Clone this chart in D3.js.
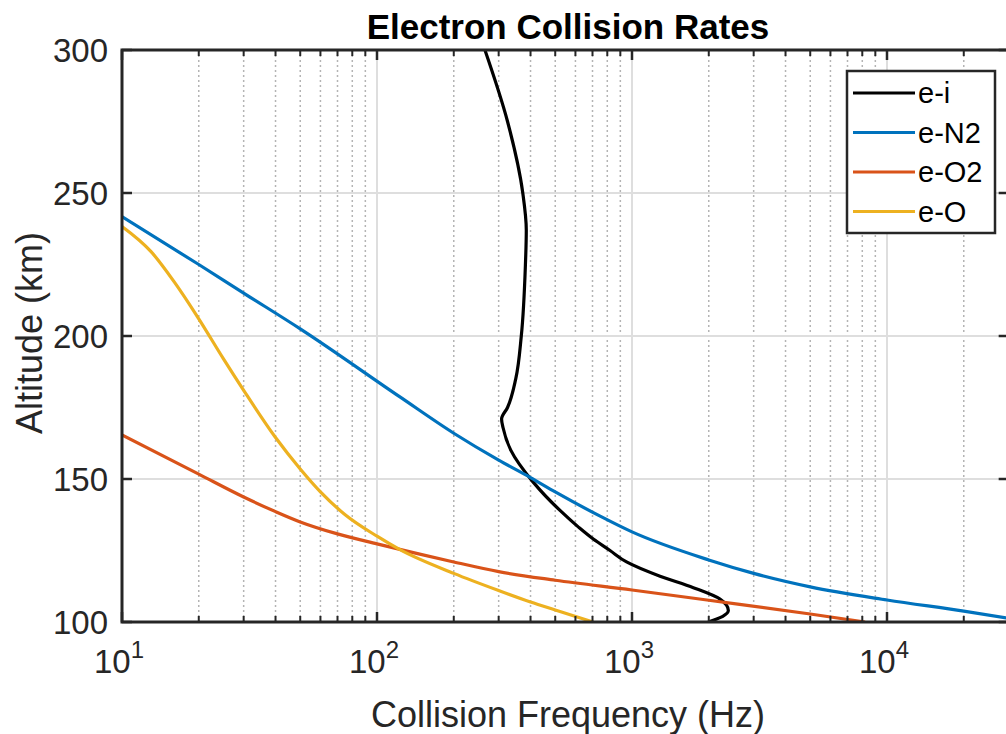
<!DOCTYPE html>
<html>
<head>
<meta charset="utf-8">
<script src="https://cdn.jsdelivr.net/npm/d3@7"></script>
<style>
  html, body { margin: 0; padding: 0; background: #fff; }
  svg { display: block; font-family: "Liberation Sans", Arial, Helvetica, sans-serif; }
</style>
</head>
<body>
<svg id="chart" width="1006" height="734"></svg>
<script>
// Electron collision frequency profiles versus altitude
const seriesNames = ["e-i", "e-N2", "e-O2", "e-O"];
const seriesColors = ["#000000", "#0072BD", "#D95319", "#EDB120"];

// e-i (electron-ion)
const eiAlt  = [300, 275, 250, 237, 225, 200, 185, 175, 171, 168, 160, 149, 139, 133, 129, 125, 121, 116, 112, 108, 104, 102, 100];
const eiFreq = [265, 325, 373, 385, 382, 368, 350, 325, 308, 312, 335, 409, 522, 620, 705, 820, 952, 1288, 1740, 2214, 2387, 2270, 1990];

// e-N2
const eN2Alt  = [241.7, 225, 215, 202.5, 178.7, 166, 156.6, 150.5, 145.5, 137, 131.5, 121.7, 117, 112.3, 107.7, 103.8, 100.5];
const eN2Freq = [10, 20, 30, 50, 123, 200, 300, 400, 500, 750, 1000, 2000, 3000, 5000, 10000, 20000, 34000];

// e-O2
const eO2Alt  = [165.4, 151.7, 143.7, 138.6, 135, 130.8, 127.3, 121, 117.6, 114.6, 111.2, 107.6, 102.8, 100];
const eO2Freq = [10, 20, 30, 40, 50, 70, 100, 200, 300, 500, 1000, 2000, 5000, 8200];

// e-O
const eOAlt  = [238.3, 229.5, 219, 206, 192, 181, 164.5, 153.5, 145.5, 137.5, 130, 125.3, 117, 111, 107, 104.2, 100];
const eOFreq = [10, 13, 16, 20, 25, 30, 40, 50, 60, 75, 100, 123, 200, 300, 400, 500, 703];

const xDomain = [10, 30000];
const yDomain = [100, 300];
const xMajorTicks = [10, 100, 1000, 10000];
const xTickExponents = ["1", "2", "3", "4"];
const yTicks = [100, 150, 200, 250, 300];

(function draw() {
  const svg = d3.select("#chart");
  const pL = 122, pT = 50, pB = 622;
  const pR = pL + 255 * Math.log10(xDomain[1] / xDomain[0]);

  const x = d3.scaleLog().domain(xDomain).range([pL, pR]);
  const y = d3.scaleLinear().domain(yDomain).range([pB, pT]);

  svg.append("defs").append("clipPath").attr("id", "plotClip")
    .append("rect").attr("x", pL).attr("y", pT).attr("width", pR - pL).attr("height", pB - pT);

  // minor ticks 2..9 per decade
  const minorTicks = [];
  for (let d = 10; d < xDomain[1]; d *= 10) {
    for (let k = 2; k <= 9; k++) {
      const v = d * k;
      if (v < xDomain[1]) minorTicks.push(v);
    }
  }

  const grid = svg.append("g");
  grid.selectAll(null).data(minorTicks).join("line")
    .attr("x1", d => x(d)).attr("x2", d => x(d))
    .attr("y1", pT).attr("y2", pB)
    .attr("stroke", "#b4b4b4").attr("stroke-width", 1.5)
    .attr("stroke-dasharray", "2,3");
  grid.selectAll(null).data(xMajorTicks).join("line")
    .attr("x1", d => x(d)).attr("x2", d => x(d))
    .attr("y1", pT).attr("y2", pB)
    .attr("stroke", "#dedede").attr("stroke-width", 2);
  grid.selectAll(null).data(yTicks.slice(1, -1)).join("line")
    .attr("x1", pL).attr("x2", pR)
    .attr("y1", d => y(d)).attr("y2", d => y(d))
    .attr("stroke", "#dedede").attr("stroke-width", 2);

  // curves: neutral species are monotone in frequency, the ion curve is monotone in altitude
  const series = [
    { alt: eiAlt, freq: eiFreq, curve: d3.curveMonotoneY },
    { alt: eN2Alt, freq: eN2Freq, curve: d3.curveMonotoneX },
    { alt: eO2Alt, freq: eO2Freq, curve: d3.curveMonotoneX },
    { alt: eOAlt, freq: eOFreq, curve: d3.curveMonotoneX }
  ];

  const plot = svg.append("g").attr("clip-path", "url(#plotClip)");
  series.forEach((s, i) => {
    const line = d3.line().x(d => x(d[0])).y(d => y(d[1])).curve(s.curve);
    plot.append("path")
      .datum(s.freq.map((f, j) => [f, s.alt[j]]))
      .attr("fill", "none")
      .attr("stroke", seriesColors[i])
      .attr("stroke-width", 3.2)
      .attr("stroke-linejoin", "round")
      .attr("d", line);
  });

  // axes box and inward ticks
  const axisColor = "#262626";
  const axes = svg.append("g");
  const tickMajor = 10, tickMinor = 6;
  [pB, pT].forEach(yy => {
    const dir = yy === pB ? -1 : 1;
    axes.selectAll(null).data(minorTicks).join("line")
      .attr("x1", d => x(d)).attr("x2", d => x(d))
      .attr("y1", yy).attr("y2", yy + dir * tickMinor)
      .attr("stroke", axisColor).attr("stroke-width", 2);
    axes.selectAll(null).data(xMajorTicks).join("line")
      .attr("x1", d => x(d)).attr("x2", d => x(d))
      .attr("y1", yy).attr("y2", yy + dir * tickMajor)
      .attr("stroke", axisColor).attr("stroke-width", 2.5);
  });
  axes.selectAll(null).data(yTicks).join("line")
    .attr("x1", pL).attr("x2", pL + tickMajor)
    .attr("y1", d => y(d)).attr("y2", d => y(d))
    .attr("stroke", axisColor).attr("stroke-width", 2.5);
  axes.selectAll(null).data(yTicks).join("line")
    .attr("x1", pR).attr("x2", pR - tickMajor)
    .attr("y1", d => y(d)).attr("y2", d => y(d))
    .attr("stroke", axisColor).attr("stroke-width", 2.5);
  axes.append("rect")
    .attr("x", pL).attr("y", pT)
    .attr("width", pR - pL).attr("height", pB - pT)
    .attr("fill", "none").attr("stroke", axisColor).attr("stroke-width", 3);

  // tick labels
  const textColor = "#262626";
  svg.append("g").selectAll("text").data(yTicks).join("text")
    .attr("x", pL - 14).attr("y", d => y(d))
    .attr("dy", "0.36em")
    .attr("text-anchor", "end")
    .attr("font-size", 33)
    .attr("fill", textColor)
    .text(d => d);

  const xl = svg.append("g").selectAll("text").data(xMajorTicks).join("text")
    .attr("x", d => x(d) - 3).attr("y", 673)
    .attr("text-anchor", "middle")
    .attr("font-size", 33)
    .attr("fill", textColor);
  xl.append("tspan").text("10");
  xl.append("tspan").attr("dy", -15).attr("font-size", 24).text((d, i) => xTickExponents[i]);

  // axis titles
  svg.append("text")
    .attr("x", 568).attr("y", 727)
    .attr("text-anchor", "middle")
    .attr("font-size", 36).attr("fill", textColor)
    .text("Collision Frequency (Hz)");
  svg.append("text")
    .attr("transform", "translate(42, 333) rotate(-90)")
    .attr("text-anchor", "middle")
    .attr("font-size", 36).attr("fill", textColor)
    .text("Altitude (km)");
  svg.append("text")
    .attr("x", 568).attr("y", 39)
    .attr("text-anchor", "middle")
    .attr("font-size", 35).attr("font-weight", "bold").attr("fill", "#000")
    .text("Electron Collision Rates");

  // legend
  const lg = svg.append("g");
  lg.append("rect")
    .attr("x", 847).attr("y", 71).attr("width", 148).attr("height", 162)
    .attr("fill", "#fff").attr("stroke", axisColor).attr("stroke-width", 2.5);
  const rows = lg.selectAll("g.row").data(seriesNames).join("g")
    .attr("transform", (d, i) => `translate(0, ${93 + i * 39.5})`);
  rows.append("line")
    .attr("x1", 853).attr("x2", 915).attr("y1", 0).attr("y2", 0)
    .attr("stroke", (d, i) => seriesColors[i]).attr("stroke-width", 3.2);
  rows.append("text")
    .attr("x", 918).attr("y", 0).attr("dy", "0.36em")
    .attr("font-size", 29).attr("fill", "#000")
    .text(d => d);
})();
</script>
</body>
</html>
